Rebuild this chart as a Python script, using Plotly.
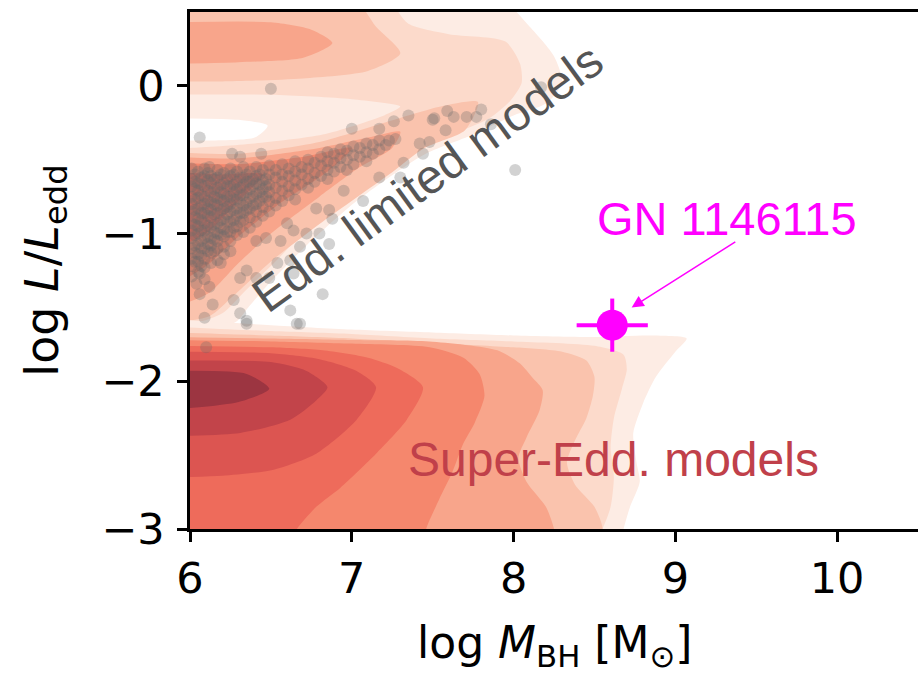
import plotly.graph_objects as go

# ---- axis ticks -------------------------------------------------------------
x_ticks = [6, 7, 8, 9, 10]
x_tick_text = ["6", "7", "8", "9", "10"]
y_ticks = [0, -1, -2, -3]
y_tick_text = ["0", "\u22121", "\u22122", "\u22123"]

# ---- density bands (light -> dark) -----------------------------------------
band_colors = ["#fdece4", "#fcdacb", "#fac3ad", "#f8a58b", "#f5876d",
               "#ee6b5b", "#dc5551", "#c2444a", "#9c3541"]

# Edd.-limited models: contour outlines (log M_BH, log L/L_edd)
edd_envelope = [(5.9, 0.6), (7.9, 0.6), (8.1, 0.4), (8.25, 0.2), (8.3, 0.02),
                (8.2, -0.12), (8.0, -0.2), (7.75, -0.33), (7.44, -0.47),
                (7.03, -0.78), (6.72, -1.08), (6.47, -1.36), (6.36, -1.5),
                (6.28, -1.6), (5.9, -1.64)]
edd_level2 = [(5.9, 0.6), (7.2, 0.6), (7.35, 0.42), (7.6, 0.35), (7.95, 0.3),
              (8.04, 0.15), (8.05, 0.02), (7.98, -0.1), (7.85, -0.22),
              (7.6, -0.34), (7.35, -0.46), (7.0, -0.72), (6.7, -1.0),
              (6.5, -1.22), (6.33, -1.4), (6.2, -1.54), (6.05, -1.6), (5.9, -1.6)]
edd_gap = [(5.9, -0.06), (6.5, -0.06), (7.0, -0.09), (7.3, -0.14), (7.2, -0.2),
           (6.82, -0.33), (6.4, -0.39), (6.0, -0.42), (5.9, -0.42)]
edd_void = [(5.9, -0.22), (6.3, -0.23), (6.48, -0.27), (6.4, -0.35),
            (6.0, -0.37), (5.9, -0.37)]
edd_top3 = [(5.9, 0.6), (7.0, 0.6), (7.15, 0.4), (7.3, 0.22), (7.1, 0.1),
            (6.7, 0.05), (6.2, 0.03), (5.9, 0.03)]
edd_top4 = [(5.9, 0.43), (6.5, 0.43), (6.75, 0.38), (6.88, 0.29), (6.7, 0.19),
            (6.3, 0.16), (5.9, 0.15)]
edd_diag3 = [(5.9, -0.45), (6.3, -0.46), (6.8, -0.38), (7.23, -0.24),
             (7.55, -0.14), (7.78, -0.11), (7.7, -0.3), (7.45, -0.42),
             (7.23, -0.6), (6.82, -0.92), (6.51, -1.18), (6.27, -1.42),
             (6.12, -1.56), (5.9, -1.6)]
edd_diag4 = [(5.9, -0.48), (6.3, -0.49), (6.8, -0.42), (7.1, -0.35),
             (7.3, -0.31), (7.25, -0.42), (7.05, -0.55), (6.8, -0.75),
             (6.5, -1.0), (6.3, -1.2), (6.12, -1.4), (5.9, -1.5)]
edd_diag5 = [(5.9, -0.52), (6.3, -0.53), (6.7, -0.48), (7.0, -0.42),
             (6.85, -0.58), (6.55, -0.8), (6.3, -1.02), (6.1, -1.22), (5.9, -1.35)]
edd_diag6 = [(5.9, -0.58), (6.2, -0.6), (6.45, -0.6), (6.3, -0.78),
             (6.1, -1.0), (5.9, -1.1)]

# Super-Edd. models: contour outlines
sup_level1 = [(5.9, -1.58), (6.5, -1.62), (7.0, -1.65), (7.5, -1.67), (8.0, -1.69),
              (8.5, -1.70), (8.85, -1.69), (9.07, -1.71), (9.0, -1.80),
              (8.88, -1.97), (8.80, -2.15), (8.74, -2.35), (8.76, -2.55),
              (8.78, -2.68), (8.72, -2.85), (8.68, -3.0), (8.66, -3.1), (5.9, -3.1)]
sup_level2 = [(5.9, -1.63), (6.5, -1.66), (7.0, -1.68), (7.5, -1.71), (8.0, -1.73),
              (8.5, -1.76), (8.68, -1.82), (8.7, -1.92), (8.67, -2.05),
              (8.62, -2.25), (8.6, -2.45), (8.62, -2.65), (8.6, -2.85),
              (8.55, -3.0), (8.5, -3.1), (5.9, -3.1)]
sup_level3 = [(5.9, -1.67), (6.5, -1.69), (7.0, -1.71), (7.5, -1.74), (8.0, -1.77),
              (8.3, -1.80), (8.45, -1.86), (8.5, -1.97), (8.49, -2.1),
              (8.45, -2.25), (8.38, -2.4), (8.33, -2.55), (8.38, -2.7),
              (8.5, -2.85), (8.55, -3.0), (8.5, -3.1), (5.9, -3.1)]
sup_level4 = [(5.9, -1.70), (6.5, -1.71), (7.0, -1.72), (7.48, -1.73), (7.9, -1.79),
              (8.04, -1.88), (8.12, -1.98), (8.18, -2.06), (8.16, -2.2),
              (8.08, -2.38), (8.03, -2.52), (8.08, -2.68), (8.2, -2.85),
              (8.25, -3.0), (8.25, -3.1), (5.9, -3.1)]
sup_level5 = [(5.9, -1.72), (6.5, -1.73), (7.0, -1.745), (7.48, -1.77),
              (7.69, -1.84), (7.79, -1.95), (7.82, -2.1), (7.76, -2.28),
              (7.69, -2.42), (7.62, -2.62), (7.54, -2.80), (7.46, -3.0),
              (7.45, -3.1), (5.9, -3.1)]
sup_level6 = [(5.9, -1.76), (6.5, -1.77), (6.82, -1.79), (7.1, -1.84), (7.28, -1.91),
              (7.44, -2.04), (7.34, -2.26), (7.15, -2.49), (6.93, -2.72),
              (6.78, -2.85), (6.66, -3.0), (6.6, -3.1), (5.9, -3.1)]
sup_level7 = [(5.9, -1.80), (6.5, -1.81), (6.8, -1.85), (7.03, -1.93), (7.15, -2.04),
              (7.03, -2.26), (6.78, -2.49), (6.51, -2.60), (6.2, -2.64), (5.9, -2.65)]
sup_level8 = [(5.9, -1.86), (6.5, -1.87), (6.72, -1.93), (6.85, -2.04),
              (6.78, -2.13), (6.62, -2.26), (6.31, -2.35), (5.9, -2.37)]
sup_level9 = [(5.9, -1.93), (6.35, -1.95), (6.49, -2.05), (6.3, -2.14), (5.9, -2.19)]

# ---- Edd.-limited model points ---------------------------------------------
# dense ridge, listed column by column: log M_BH -> log L/L_edd values
edd_core = {
    6.01: [-0.56, -0.63, -0.68, -0.75, -0.80, -0.85, -0.93, -0.98, -1.03, -1.10, -1.17, -1.22, -1.29],
    6.03: [-0.60, -0.65, -0.70, -0.77, -0.84, -0.89, -0.94, -1.01, -1.08, -1.13, -1.19],
    6.05: [-0.58, -0.66, -0.71, -0.76, -0.83, -0.90, -0.95, -1.00, -1.07, -1.14, -1.19, -1.26],
    6.07: [-0.62, -0.67, -0.74, -0.81, -0.86, -0.91, -0.98, -1.05, -1.10, -1.15, -1.22],
    6.09: [-0.56, -0.61, -0.68, -0.75, -0.80, -0.86, -0.93, -0.98, -1.03, -1.10, -1.17, -1.23, -1.31],
    6.11: [-0.59, -0.64, -0.71, -0.78, -0.83, -0.88, -0.95, -1.02, -1.07, -1.12],
    6.13: [-0.61, -0.66, -0.72, -0.79, -0.84, -0.89, -0.96, -1.03, -1.08, -1.13, -1.20],
    6.15: [-0.63, -0.70, -0.75, -0.80, -0.87, -0.94, -0.99, -1.04, -1.12],
    6.17: [-0.57, -0.62, -0.69, -0.76, -0.81, -0.86, -0.93, -1.00, -1.05, -1.10, -1.18],
    6.19: [-0.60, -0.67, -0.72, -0.77, -0.84, -0.91, -0.96, -1.01],
    6.21: [-0.59, -0.66, -0.73, -0.78, -0.83, -0.90, -0.97, -1.02, -1.09],
    6.23: [-0.63, -0.68, -0.75, -0.82, -0.87, -0.92, -0.99],
    6.25: [-0.56, -0.61, -0.68, -0.75, -0.80, -0.85, -0.92, -0.99, -1.05, -1.12],
    6.27: [-0.60, -0.67, -0.72, -0.77, -0.84, -0.91, -0.96],
    6.29: [-0.58, -0.65, -0.70, -0.77, -0.83, -0.88, -0.95, -1.01],
    6.31: [-0.62, -0.69, -0.74, -0.79, -0.86, -0.92],
    6.33: [-0.55, -0.62, -0.67, -0.74, -0.81, -0.86, -0.91, -0.99],
    6.35: [-0.60, -0.65, -0.72, -0.79, -0.84],
    6.37: [-0.58, -0.65, -0.70, -0.76, -0.83, -0.89, -0.96],
    6.39: [-0.63, -0.68, -0.75, -0.81],
    6.41: [-0.55, -0.61, -0.66, -0.73, -0.80, -0.85, -0.92],
    6.43: [-0.60, -0.67, -0.72, -0.78],
    6.45: [-0.57, -0.64, -0.70, -0.75, -0.82, -0.88],
    6.47: [-0.63, -0.68, -0.75],
    6.49: [-0.54, -0.60, -0.67, -0.72, -0.78, -0.85],
    6.53: [-0.57, -0.62, -0.69, -0.76, -0.81],
    6.57: [-0.53, -0.60, -0.65, -0.71, -0.78],
    6.61: [-0.56, -0.61, -0.68, -0.74],
    6.65: [-0.51, -0.58, -0.64, -0.70, -0.77],
    6.69: [-0.55, -0.60, -0.67],
    6.73: [-0.50, -0.56, -0.63, -0.69],
    6.77: [-0.52, -0.59, -0.65],
    6.81: [-0.48, -0.54, -0.61],
    6.85: [-0.45, -0.51, -0.57, -0.63],
    6.89: [-0.46, -0.52, -0.58],
    6.93: [-0.43, -0.49, -0.55],
    6.97: [-0.44, -0.50, -0.57],
    7.01: [-0.41, -0.47, -0.53],
    7.05: [-0.42, -0.48],
    7.09: [-0.39, -0.45, -0.51],
    7.13: [-0.40, -0.46],
    7.17: [-0.37, -0.43],
    7.21: [-0.40],
    7.27: [-0.36],
}
edd_sparse_m = [6.50, 6.06, 7.00, 7.17, 7.26, 7.35, 7.50, 7.59, 7.63, 7.71, 7.77, 7.80,
                7.58, 7.42, 7.48, 7.44, 7.23, 7.32, 7.17, 7.30, 7.07, 6.95, 6.88, 6.78,
                6.86, 6.80, 6.72, 6.64, 6.60, 6.56, 6.68, 6.86, 6.41, 6.47, 6.54, 6.62,
                6.64, 6.49, 6.35, 6.31, 6.41, 6.27, 6.31, 6.35, 6.09, 6.14, 6.62, 6.68,
                6.82, 6.21, 6.19, 6.06, 6.04, 6.12, 8.01, 6.26, 6.44, 6.31, 6.12, 6.06,
                7.51, 7.86, 8.17, 6.10, 6.35, 6.66]
edd_sparse_l = [-0.02, -0.35, -0.29, -0.29, -0.24, -0.20, -0.23, -0.17, -0.21, -0.21, -0.21, -0.16,
                -0.30, -0.39, -0.38, -0.46, -0.37, -0.52, -0.62, -0.62, -0.78, -0.71, -0.90, -0.83,
                -0.84, -1.00, -1.00, -0.98, -0.93, -1.05, -1.09, -1.07, -1.05, -1.03, -1.20, -1.18,
                -1.27, -1.30, -1.25, -1.30, -1.30, -1.45, -1.54, -1.59, -1.57, -1.48, -1.52, -1.61,
                -1.41, -1.14, -1.20, -1.27, -1.34, -1.36, -0.57, -0.46, -0.46, -0.48, -0.55, -1.41,
                -0.22, -0.26, -0.01, -1.77, -1.61, -1.61]

# ---- GN 1146115 ----------------------------------------------------------------
gn_logm = [8.61]
gn_logl = [-1.62]
gn_err_m = [0.22]
gn_err_l = [0.18]

fig = go.Figure()


def add_band(points, color):
    fig.add_trace(go.Scatter(
        x=[p[0] for p in points], y=[p[1] for p in points],
        mode="lines", fill="toself", fillcolor=color,
        line=dict(width=0, shape="spline", smoothing=0.7, color=color),
        hoverinfo="skip", showlegend=False))


c = band_colors
for pts, col in [(edd_envelope, c[0]), (edd_level2, c[1]), (edd_gap, c[0]),
                 (edd_void, "#ffffff"), (edd_top3, c[2]), (edd_top4, c[3]),
                 (edd_diag3, c[2]), (edd_diag4, c[3]), (edd_diag5, c[4]),
                 (edd_diag6, c[5])]:
    add_band(pts, col)

for pts, col in zip([sup_level1, sup_level2, sup_level3, sup_level4, sup_level5,
                     sup_level6, sup_level7, sup_level8, sup_level9], c):
    add_band(pts, col)

core_m = [m for m, ls in edd_core.items() for _ in ls]
core_l = [l for ls in edd_core.values() for l in ls]
fig.add_trace(go.Scatter(
    x=core_m + edd_sparse_m, y=core_l + edd_sparse_l, mode="markers",
    marker=dict(size=12, color="rgba(105,105,105,0.3)", line=dict(width=0)),
    hoverinfo="skip", showlegend=False))

fig.add_trace(go.Scatter(
    x=gn_logm, y=gn_logl, mode="markers",
    marker=dict(size=31, color="#ff00ff", line=dict(width=0)),
    error_x=dict(type="data", array=gn_err_m, color="#ff00ff", thickness=4, width=0),
    error_y=dict(type="data", array=gn_err_l, color="#ff00ff", thickness=4, width=0),
    showlegend=False))

text_font = "Liberation Sans, Arial, sans-serif"
fig.add_annotation(x=8.73, y=-1.50, ax=9.38, ay=-1.05, xref="x", yref="y",
                   axref="x", ayref="y", text="", showarrow=True, arrowhead=2,
                   arrowsize=1.6, arrowwidth=1.5, arrowcolor="#ff00ff")
fig.add_annotation(x=9.32, y=-0.90, text="GN 1146115", showarrow=False,
                   font=dict(family=text_font, size=47, color="#ff00ff"))
fig.add_annotation(x=7.47, y=-0.62, text="Edd. limited models", showarrow=False,
                   textangle=-36,
                   font=dict(family=text_font, size=48, color="#555555"))
fig.add_annotation(x=8.62, y=-2.53, text="Super-Edd. models", showarrow=False,
                   font=dict(family=text_font, size=48, color="#c0404a"))

axis_font = "DejaVu Sans, sans-serif"
fig.add_annotation(xref="paper", yref="paper", x=0.501, y=-0.226,
                   xanchor="center", yanchor="middle",
                   text="log <i>M</i><sub>BH</sub> [M<sub>\u2299</sub>]",
                   showarrow=False, font=dict(family=axis_font, size=44, color="#000"))
fig.add_annotation(xref="paper", yref="paper", x=-0.199, y=0.50, textangle=-90,
                   xanchor="center", yanchor="middle",
                   text="log <i>L</i>/<i>L</i><sub>edd</sub>",
                   showarrow=False, font=dict(family=axis_font, size=46, color="#000"))

fig.update_xaxes(range=[6, 10.5], tickvals=x_ticks, ticktext=x_tick_text,
                 showline=True, linecolor="#000", linewidth=2.5, mirror=True,
                 ticks="outside", ticklen=10, tickwidth=2.5, tickcolor="#000",
                 showgrid=False, zeroline=False,
                 tickfont=dict(family=axis_font, size=43, color="#000"))
fig.update_yaxes(range=[-3, 0.5], tickvals=y_ticks, ticktext=y_tick_text,
                 showline=True, linecolor="#000", linewidth=2.5, mirror=False,
                 ticks="outside", ticklen=10, tickwidth=2.5, tickcolor="#000",
                 showgrid=False, zeroline=False, ticklabelstandoff=4,
                 tickfont=dict(family=axis_font, size=43, color="#000"))
fig.update_layout(width=918, height=673, margin=dict(l=190, r=0, t=12, b=144),
                  plot_bgcolor="#fff", paper_bgcolor="#fff", showlegend=False)

fig.write_html("out.html")
